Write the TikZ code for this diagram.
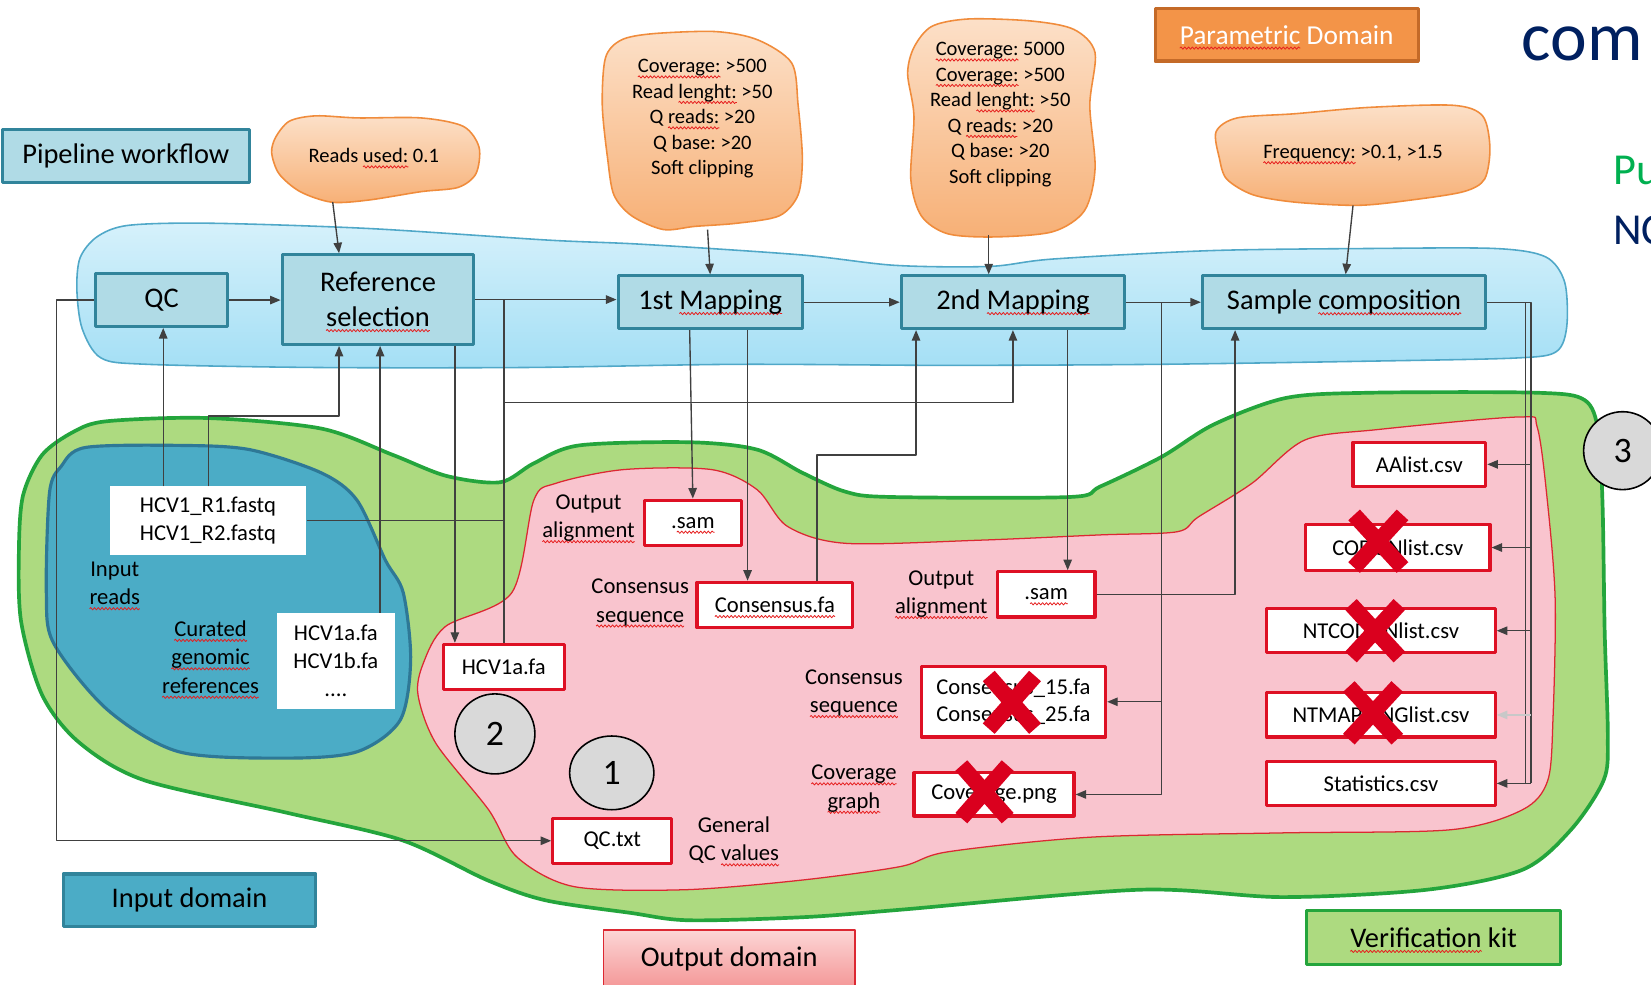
\documentclass[tikz,border=0pt]{standalone}
\usepackage{fontspec}
\setmainfont{Carlito}
\frenchspacing
\usetikzlibrary{arrows.meta,shapes.geometric,decorations.pathmorphing}
\definecolor{lncol}{RGB}{64,64,64}
\definecolor{lgrey}{RGB}{200,200,200}
\definecolor{stepfill}{RGB}{176,219,230}
\definecolor{stepborder}{RGB}{49,132,155}
\definecolor{inblue}{RGB}{75,172,198}
\definecolor{inblueb}{RGB}{46,120,150}
\definecolor{pipetop}{RGB}{214,241,251}
\definecolor{pipebot}{RGB}{164,223,245}
\definecolor{pipeborder}{RGB}{80,168,200}
\definecolor{vgreen}{RGB}{173,218,128}
\definecolor{vgreenb}{RGB}{36,165,60}
\definecolor{opink}{RGB}{249,196,206}
\definecolor{opinkb}{RGB}{220,40,50}
\definecolor{odtop}{RGB}{252,214,214}
\definecolor{odbot}{RGB}{244,150,150}
\definecolor{boxred}{RGB}{222,16,36}
\definecolor{xred}{RGB}{218,0,30}
\definecolor{cloudtop}{RGB}{252,224,200}
\definecolor{cloudbot}{RGB}{247,176,118}
\definecolor{cloudb}{RGB}{240,140,60}
\definecolor{porange}{RGB}{243,148,72}
\definecolor{porangeb}{RGB}{196,106,40}
\definecolor{navy}{RGB}{0,32,96}
\definecolor{pgreen}{RGB}{0,176,80}
\definecolor{circfill}{RGB}{217,217,217}
\definecolor{sqred}{RGB}{230,30,30}
\newcommand\sq[1]{\setbox0=\hbox{#1}\rlap{\tikz[overlay,baseline=0pt]\draw[draw=sqred,fill=none,line width=0.75pt,decorate,decoration={snake,segment length=3.6pt,amplitude=1.1pt}] (0pt,-3.8pt) -- (\the\wd0,-3.8pt);}\box0\relax}
\tikzset{
 conn/.style={draw=lncol, line width=1.3pt},
 arr/.style={conn, -{Triangle[length=10pt,width=8pt]}},
 pstep/.style={draw=stepborder, line width=3pt, fill=stepfill, inner sep=0pt, font=\fontsize{27}{33}\selectfont, align=center},
 dbox/.style={draw=boxred, line width=3pt, fill=white, inner sep=0pt, font=\fontsize{21.5}{26}\selectfont, align=center},
 wbox/.style={fill=white, inner sep=0pt, font=\fontsize{21.5}{26.5}\selectfont, align=center},
 lab/.style={font=\fontsize{21.5}{27}\selectfont, align=center, inner sep=0pt},
 ctext/.style={font=\fontsize{19.5}{24.2}\selectfont, align=center, inner sep=0pt},
 cloudsty/.style={draw=cloudb, line width=1.5pt, top color=cloudtop, bottom color=cloudbot},
 legend/.style={line width=3pt, inner sep=0pt, font=\fontsize{27}{30}\selectfont},
 numc/.style={draw=black, line width=1.5pt, fill=circfill, inner sep=0pt, font=\fontsize{34}{34}\selectfont},
 xmark/.style={draw=xred, line width=15pt},
}
\begin{document}
\begin{tikzpicture}[x=1pt,y=-1pt,line join=round]
\useasboundingbox (0,0) rectangle (1568,935);
\fill[white] (0,0) rectangle (1568,935);
% ---------- domains (blobs)
\draw[draw=pipeborder, line width=1.5pt, top color=pipetop, bottom color=pipebot]
 plot[smooth cycle] coordinates {(76,245) (92,225) (122,214) (200,212) (350,217) (520,228) (610,232) (760,242) (850,252) (940,253) (1000,246) (1150,238) (1300,236) (1420,236) (1468,244) (1486,268) (1488,310) (1478,334) (1440,340) (1300,343) (1100,346) (900,347) (700,346) (500,349) (300,349) (140,346) (96,340) (78,312) (73,275)};
\draw[draw=vgreenb, line width=3.5pt, fill=vgreen]
 plot[smooth cycle] coordinates {(18,520) (22,470) (40,432) (70,410) (102,400) (197,397) (305,407) (373,432) (424,452) (475,458) (507,440) (550,423) (655,420) (719,427) (762,449) (803,467) (846,472) (1016,472) (1045,462) (1103,434) (1153,403) (1221,378) (1300,373) (1460,373) (1505,380) (1518,410) (1522,480) (1524,600) (1527,700) (1523,741) (1492,788) (1446,826) (1355,845) (1218,852) (1082,845) (855,864) (764,871) (654,874) (599,867) (518,855) (463,836) (382,798) (273,772) (137,741) (75,705) (40,660) (20,590)};
\draw[draw=opinkb, line width=1.2pt, fill=opink]
 plot[smooth cycle] coordinates {(507,475) (528,459) (592,446) (676,446) (719,465) (748,500) (803,516) (931,513) (1045,508) (1118,505) (1138,491) (1189,459) (1239,418) (1308,408) (1443,396) (1460,406) (1470,480) (1477,570) (1475,680) (1470,741) (1446,769) (1378,788) (1218,791) (1037,795) (900,809) (855,823) (760,836) (650,845) (545,842) (491,814) (464,769) (414,706) (397,660) (402,630) (423,595) (486,563)};
\draw[draw=inblueb, line width=3pt, fill=inblue]
 plot[smooth cycle] coordinates {(58,443) (81,425) (170,423) (237,427) (305,449) (339,475) (366,532) (383,563) (390,627) (380,684) (339,714) (271,720) (170,714) (102,674) (51,611) (44,563) (47,468)};
% ---------- parameter clouds
\draw[cloudsty] plot[smooth cycle] coordinates {(262,130) (275,115) (300,110) (340,112) (400,112) (440,120) (455,140) (452,165) (435,178) (400,182) (350,190) (315,192) (285,182) (265,165) (258,145)};
\draw[cloudsty] plot[smooth cycle] coordinates {(575,55) (590,38) (620,32) (680,30) (720,38) (752,60) (758,100) (762,150) (758,185) (740,205) (700,212) (660,215) (630,218) (600,205) (583,185) (577,150) (572,100)};
\draw[cloudsty] plot[smooth cycle] coordinates {(868,45) (885,25) (920,18) (980,20) (1020,28) (1040,50) (1035,100) (1040,160) (1030,200) (1000,220) (945,225) (900,222) (875,205) (865,170) (868,110) (862,70)};
\draw[cloudsty] plot[smooth cycle] coordinates {(1155,125) (1175,112) (1230,108) (1300,102) (1380,100) (1408,110) (1415,140) (1410,170) (1390,182) (1340,190) (1290,195) (1230,192) (1190,185) (1165,170) (1158,150)};
\node[ctext] (rtext) at (355,148) {Reads \sq{used:} 0.1};
\node[ctext] (c1text) at (667,113) {\sq{Coverage:} >500\\Read \sq{lenght:} >50\\Q \sq{reads:} >20\\Q base: >20\\Soft clipping};
\node[ctext] (c2text) at (950,109) {\sq{Coverage:} 5000\\\sq{Coverage:} >500\\Read \sq{lenght:} >50\\Q \sq{reads:} >20\\Q base: >20\\Soft clipping};
\node[ctext] (ftext) at (1285,146) {\sq{Frequency:} >0.1, >1.5};
\coordinate (rc) at (316,192);
\coordinate (c1b) at (672,218);
\coordinate (c2b) at (939,223);
\coordinate (fb) at (1285,195);
% ---------- legend boxes and side texts
\node[legend, draw=stepborder, fill=stepfill, minimum width=235pt, minimum height=50pt] (pw) at (119.5,148) {Pipeline workflow};
\node[legend, draw=porangeb, fill=porange, text=white, minimum width=250pt, minimum height=50pt, font=\fontsize{26}{30}\selectfont] (pd) at (1222,33) {\sq{Parametric} Domain};
\node[legend, draw=stepborder, fill=inblue, minimum width=240pt, minimum height=50pt] (idom) at (180,855) {Input domain};
\node[legend, draw=opinkb, line width=1.5pt, top color=odtop, bottom color=odbot, minimum width=239pt, minimum height=56pt] (odom) at (692.5,911) {Output domain};
\node[legend, draw=vgreenb, fill=vgreen, minimum width=241pt, minimum height=51pt] (vk) at (1361.5,890.5) {\sq{Verification} kit};
\node[anchor=base west, text=navy, font=\fontsize{66}{66}\selectfont, inner sep=0pt] (com) at (1445,57) {com};
\node[anchor=base west, text=pgreen, font=\fontsize{42}{42}\selectfont, inner sep=0pt] (pu) at (1532,175) {Pu};
\node[anchor=base west, text=navy, font=\fontsize{42}{42}\selectfont, inner sep=0pt] (nc) at (1532,232) {NC};
% ---------- pipeline steps
\node[pstep, minimum width=125pt, minimum height=50pt] (qc) at (153.5,285) {QC};
\node[pstep, minimum width=182pt, minimum height=85pt] (ref) at (359,284.5) {Reference\\\sq{selection}};
\node[pstep, minimum width=175pt, minimum height=50pt] (map1) at (674.5,287) {1st \sq{Mapping}};
\node[pstep, minimum width=212pt, minimum height=50pt] (map2) at (962,287) {2nd \sq{Mapping}};
\node[pstep, minimum width=269pt, minimum height=50pt] (samp) at (1276.5,287) {Sample \sq{composition}};
% ---------- data files
\node[wbox, minimum width=187pt, minimum height=65pt] (fastq) at (197.5,494.5) {HCV1\_R1.fastq\\HCV1\_R2.fastq};
\node[wbox, minimum width=112pt, minimum height=91pt] (refs) at (319,627.5) {HCV1a.fa\\HCV1b.fa\\....};
\node[dbox, minimum width=92pt, minimum height=43pt] (sam1) at (658,496.5) {.\sq{sam}};
\node[dbox, minimum width=148pt, minimum height=43pt] (cons) at (736,574.5) {\sq{Consensus.fa}};
\node[dbox, minimum width=115pt, minimum height=43pt] (hcv) at (478.5,633.5) {HCV1a.fa};
\node[dbox, minimum width=113pt, minimum height=43pt] (qctxt) at (581.5,798.5) {QC.txt};
\node[dbox, minimum width=93pt, minimum height=43pt] (sam2) at (993.5,564.5) {.\sq{sam}};
\node[dbox, minimum width=175pt, minimum height=67pt, align=left] (cons2) at (962.5,666.5) {Consensus\_15.fa\\Consensus\_25.fa};
\node[dbox, minimum width=152pt, minimum height=41pt] (covpng) at (944,754.5) {Coverage.png};
\node[dbox, minimum width=126pt, minimum height=42pt] (aa) at (1348,441) {AAlist.csv};
\node[dbox, minimum width=175pt, minimum height=44pt] (co) at (1327.5,520) {CODONlist.csv};
\node[dbox, minimum width=217pt, minimum height=42pt] (ntco) at (1311.5,599) {NTCODONlist.csv};
\node[dbox, minimum width=217pt, minimum height=42pt] (ntma) at (1311.5,679) {NTMAPPINGlist.csv};
\node[dbox, minimum width=217pt, minimum height=42pt] (stats) at (1311.5,744) {Statistics.csv};
% ---------- labels
\node[lab] (oa1) at (559,492) {Output\\\sq{alignment}};
\node[lab] (cs1) at (608,572) {Consensus\\\sq{sequence}};
\node[lab] (oa2) at (894,564) {Output\\\sq{alignment}};
\node[lab] (cs2) at (811,658) {Consensus\\\sq{sequence}};
\node[lab] (cg) at (811,749) {\sq{Coverage}\\\sq{graph}};
\node[lab] (gq) at (697,798) {General\\QC \sq{values}};
\node[lab] (ir) at (109,554) {Input\\\sq{reads}};
\node[lab] (cgr) at (200,624) {\sq{Curated}\\\sq{genomic}\\\sq{references}};
% ---------- connectors
\draw[arr] (rc) -- (322,0 |- ref.north);
\draw[arr] (c1b) -- (map1.north);
\draw[arr] (c2b) -- (939,0 |- map2.north);
\draw[arr] (fb) -- (1278,0 |- samp.north);
\draw[arr] (qc.east) -- (qc.east -| ref.west);
\draw[arr] (ref.east) -- (ref.east -| map1.west);
\draw[arr] (map1.east) -- (map2.west);
\draw[arr] (map2.east) -- (samp.west);
\draw[arr] (qc.west) -- ++(-36,0) |- (qctxt.west);
\draw[arr] (155,0 |- fastq.north) -- (155,0 |- qc.south);
\draw[arr] (198,0 |- fastq.north) |- (322,395) -- (322,0 |- ref.south);
\draw[arr] (361,0 |- refs.north) -- (361,0 |- ref.south);
\draw[arr] (432,0 |- ref.south) -- (432,0 |- hcv.north);
\draw[conn] (fastq.east) -- (fastq.east -| hcv.north);
\draw[conn] (hcv.north) -- (hcv.north |- ref.east);
\draw[arr] (hcv.north |- 0,382) -| (map2.south);
\draw[arr] (655,0 |- map1.south) -- (sam1.north);
\draw[arr] (710,0 |- map1.south) -- (710,0 |- cons.north);
\draw[arr] (776,0 |- cons.north) |- (870,432) -- (870,0 |- map2.south);
\draw[arr] (1014,0 |- map2.south) -- (1014,0 |- sam2.north);
\draw[arr] (sam2.east) -| (1173,0 |- samp.south);
\draw[arr] (1103,0 |- map2.east) |- (cons2.east);
\draw[arr] (1103,0 |- map2.east) |- (covpng.east);
\draw[conn] (samp.east) -- (1454,0 |- samp.east) -- (1454,0 |- stats.east);
\draw[conn] (1449,0 |- samp.east) -- (1449,0 |- stats.east);
\draw[arr] (1454,0 |- aa.east) -- (aa.east);
\draw[arr] (1454,0 |- co.east) -- (co.east);
\draw[arr] (1454,0 |- ntco.east) -- (ntco.east);
\draw[arr, draw=lgrey] (1454,0 |- ntma.east) -- (ntma.east);
\draw[arr] (1454,0 |- stats.east) -- (stats.east);
% ---------- crosses
\draw[xmark] (1309,514) +(-23,-25) -- +(23,25) (1309,514) +(-23,25) -- +(23,-25);
\draw[xmark] (1306,599) +(-23,-25) -- +(23,25) (1306,599) +(-23,25) -- +(23,-25);
\draw[xmark] (1304,677) +(-23,-25) -- +(23,25) (1304,677) +(-23,25) -- +(23,-25);
\draw[xmark] (961,667) +(-22,-25) -- +(22,25) (961,667) +(-22,25) -- +(22,-25);
\draw[xmark] (935,752) +(-22,-25) -- +(22,25) (935,752) +(-22,25) -- +(22,-25);
% ---------- numbered circles
\node[numc, circle, minimum size=76pt] (n2) at (470,697) {2};
\node[numc, ellipse, minimum width=80pt, minimum height=70pt] (n1) at (581,734) {1};
\node[numc, circle, minimum size=74pt] (n3) at (1541,428) {3};
\end{tikzpicture}
\end{document}
